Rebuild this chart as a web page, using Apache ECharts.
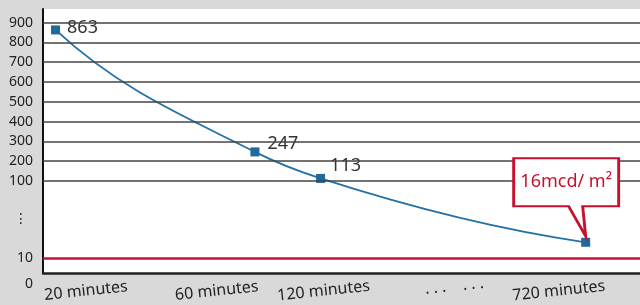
<!DOCTYPE html>
<html>
<head>
<meta charset="UTF-8">
<title>Luminance decay</title>
<script src="https://cdn.jsdelivr.net/npm/echarts@6.0.0/dist/echarts.min.js"></script>
<style>
  html, body { margin: 0; padding: 0; background: #d9d9d9; }
  #main { width: 640px; height: 305px; }
</style>
</head>
<body>
<div id="main"></div>
<script type="text/javascript">
// readings in mcd/m2 after each elapsed time
var readings = [863, 247, 113, 16];
// where each reading sits on the (broken) time axis, 0-100
var readingSlot = [2.1, 35.5, 46.5, 90.9];
var timeLabels = ['20 minutes', '60 minutes', '120 minutes', '\u00b7 \u00b7 \u00b7    \u00b7 \u00b7 \u00b7', '720 minutes'];
var timeLabelSlot = [7.2, 29.1, 47.0, 69.0, 86.4];
var yTicks = [0, 10, 100, 200, 300, 400, 500, 600, 700, 800, 900];
var gridValues = [100, 200, 300, 400, 500, 600, 700, 800, 900];
var limitValue = 10;
var calloutText = '16mcd/ m\u00b2';

// broken value axis: 0-10 and 10-100 squeezed, linear from 100 up
function yScale(v) {
	if (v >= 100) return 92 + (v - 100) * 0.198;
	if (v >= 10) return 15 + Math.log10(v / 10) * 77;
	return v * 1.5;
}

var yLabelPos = yTicks.map(yScale);
var yLabelText = yTicks.map(String);
// the gap marker between 10 and 100
yLabelPos.push(yScale(Math.sqrt(10 * 100)));
yLabelText.push('gap');

function nearest(list, v) {
	var best = 0;
	for (var i = 1; i < list.length; i++) {
		if (Math.abs(list[i] - v) < Math.abs(list[best] - v)) best = i;
	}
	return best;
}

var labelOffsets = [[0, -2], [1, -8], [-2, -12.5]];
var seriesData = readings.map(function(v, i) {
	return {
		value: [readingSlot[i], yScale(v)],
		label: i < 3 ? { show: true, offset: labelOffsets[i] } : { show: false }
	};
});

// cubic hermite tangents in pixel space (decay-shaped ends)
function tangents(pts) {
	var n = pts.length, d = [], m = [];
	for (var i = 0; i < n - 1; i++) {
		d.push((pts[i + 1][1] - pts[i][1]) / (pts[i + 1][0] - pts[i][0]));
	}
	m[0] = d[0] * d[0] / d[1];
	for (var j = 1; j < n - 1; j++) m[j] = (d[j - 1] + d[j]) / 2;
	m[n - 1] = d[n - 2] * d[n - 2] / d[n - 3];
	return m;
}

function renderCurve(params, api) {
	var i = params.dataIndex;
	if (i >= readings.length - 1) return;
	var pts = readings.map(function(v, k) {
		return api.coord([readingSlot[k], yScale(v)]);
	});
	var tan = tangents(pts);
	var p0 = pts[i], p1 = pts[i + 1], h = p1[0] - p0[0];
	return {
		type: 'bezierCurve',
		shape: {
			x1: p0[0], y1: p0[1], x2: p1[0], y2: p1[1],
			cpx1: p0[0] + h / 3, cpy1: p0[1] + tan[i] * h / 3,
			cpx2: p1[0] - h / 3, cpy2: p1[1] - tan[i + 1] * h / 3
		},
		style: { stroke: '#2471a7', lineWidth: 1.8, fill: 'none' }
	};
}

var chart = echarts.init(document.getElementById('main'));

var option = {
	backgroundColor: '#d9d9d9',
	animation: false,
	textStyle: { fontFamily: 'Noto Sans' },
	grid: {
		left: 43, right: 0, top: 9, bottom: 32,
		show: true, backgroundColor: '#ffffff', borderWidth: 0
	},
	xAxis: {
		type: 'value',
		min: 0,
		max: 100,
		axisLine: { show: true, lineStyle: { color: '#222', width: 2.5 } },
		axisTick: { show: false },
		splitLine: { show: false },
		axisLabel: {
			customValues: timeLabelSlot,
			formatter: function(v) { return timeLabels[nearest(timeLabelSlot, v)]; },
			rotate: 6,
			align: 'center',
			verticalAlign: 'middle',
			margin: 18,
			fontSize: 16,
			color: '#222'
		}
	},
	yAxis: {
		type: 'value',
		min: 0,
		max: 264,
		axisLine: { show: true, lineStyle: { color: '#111', width: 2 } },
		axisTick: { show: false },
		splitLine: { show: false },
		axisLabel: {
			customValues: yLabelPos,
			formatter: function(v) {
				var t = yLabelText[nearest(yLabelPos, v)];
				if (t === 'gap') return '{gap|\u22ee}';
				if (t === '0') return '{low|0}';
				return t;
			},
			margin: 10,
			fontSize: 14,
			color: '#222',
			rich: {
				low: { fontSize: 14, color: '#222', padding: [22, 0, 0, 0] },
				gap: { fontSize: 14, color: '#222', fontFamily: 'DejaVu Sans', padding: [0, 5, 0, 0] }
			}
		}
	},
	series: [{
		// horizontal rules and the red limit line
		type: 'line',
		data: [],
		z: 1,
		markLine: {
			silent: true,
			symbol: ['none', 'none'],
			label: { show: false },
			data: gridValues.map(function(v) {
				return { yAxis: yScale(v), lineStyle: { color: '#444', width: 1.5, type: 'solid' } };
			}).concat([{ yAxis: yScale(limitValue), lineStyle: { color: '#c41230', width: 2.5, type: 'solid' } }])
		}
	}, {
		// smooth decay curve through the readings
		type: 'custom',
		z: 2,
		renderItem: renderCurve,
		data: seriesData.map(function(d) { return d.value; })
	}, {
		type: 'scatter',
		z: 3,
		symbol: 'rect',
		symbolSize: 9,
		itemStyle: { color: '#21699d', opacity: 1 },
		label: {
			position: 'right',
			distance: 7,
			fontSize: 18,
			color: '#333',
			formatter: function(p) { return readings[p.dataIndex]; }
		},
		data: seriesData,
		markPoint: {
			silent: true,
			symbol: 'path://M0 0L105 0L105 48L69 48L72 78L55 48L0 48Z',
			symbolSize: [105, 78],
			symbolKeepAspect: false,
			symbolOffset: [-19.5, -45],
			itemStyle: { color: '#ffffff', borderColor: '#c8102e', borderWidth: 2.5 },
			label: {
				show: true,
				position: 'inside',
				offset: [0, -15],
				formatter: calloutText,
				fontSize: 18,
				color: '#c8102e'
			},
			data: [{ coord: [readingSlot[3], yScale(readings[3])] }]
		}
	}]
};

chart.setOption(option);
</script>
</body>
</html>
